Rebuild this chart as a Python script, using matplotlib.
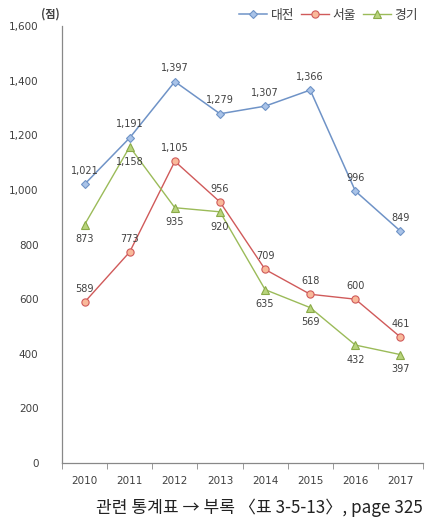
import numpy as np
import matplotlib.pyplot as plt

plt.rcParams['font.family'] = ['Noto Sans CJK KR', 'DejaVu Sans']

# 데이터
years = ['2010', '2011', '2012', '2013', '2014', '2015', '2016', '2017']
daejeon = [1021, 1191, 1397, 1279, 1307, 1366, 996, 849]
seoul = [589, 773, 1105, 956, 709, 618, 600, 461]
gyeonggi = [873, 1158, 935, 920, 635, 569, 432, 397]

txt_col = '#404040'
fig = plt.figure(figsize=(4.43, 5.23), dpi=100)
ax = fig.add_axes([0.140, 0.1147, 0.815, 0.8353])
x = np.arange(len(years))

ax.plot(x, daejeon, '-D', color='#6F93C7', lw=1.1, ms=3.6, mfc='#A9C3E8',
        mec='#6F93C7', mew=0.8, label='대전')
ax.plot(x, seoul, '-o', color='#D05A5A', lw=1.0, ms=5.2, mfc='#F9B99A',
        mec='#D05A5A', mew=0.8, label='서울')
ax.plot(x, gyeonggi, '-^', color='#9BBB59', lw=1.0, ms=5.2, mfc='#B8D47C',
        mec='#8AAA48', mew=0.8, label='경기')

lab_kw = dict(ha='center', fontsize=7, color=txt_col, family=['DejaVu Sans'])
for i, v in enumerate(daejeon):
    ax.annotate(f'{v:,}', (i, v), xytext=(0, 6), textcoords='offset points', va='bottom', **lab_kw)
for i, v in enumerate(seoul):
    ax.annotate(f'{v:,}', (i, v), xytext=(0, 6), textcoords='offset points', va='bottom', **lab_kw)
for i, v in enumerate(gyeonggi):
    ax.annotate(f'{v:,}', (i, v), xytext=(0, -7), textcoords='offset points', va='top', **lab_kw)

ax.set_xlim(-0.5, len(years) - 0.5)
ax.set_ylim(0, 1600)
ax.set_yticks(np.arange(0, 1601, 200))
ax.set_yticklabels([f'{t:,}' for t in range(0, 1601, 200)], family=['DejaVu Sans'])
ax.set_xticks(x)
ax.set_xticklabels(years, family=['DejaVu Sans'])
ax.set_xticks(np.arange(-0.5, len(years)), minor=True)
ax.tick_params(axis='x', which='major', length=0, pad=9, labelsize=7.5, labelcolor=txt_col)
ax.tick_params(axis='x', which='minor', length=4, color='#888888', direction='out')
ax.tick_params(axis='y', length=0, labelsize=7.5, labelcolor=txt_col, pad=17)
for s in ['top', 'right']:
    ax.spines[s].set_visible(False)
for s in ['left', 'bottom']:
    ax.spines[s].set_color('#888888')
    ax.spines[s].set_linewidth(0.9)

fig.text(50 / 443, 1 - 14 / 523, '(점)', ha='center', va='center', fontsize=8,
         fontweight='bold', color=txt_col)
ax.legend(loc='center right', bbox_to_anchor=(418 / 443, 1 - 15 / 523),
          bbox_transform=fig.transFigure, ncol=3, frameon=False,
          fontsize=9.2, handlelength=2.2, columnspacing=0.5, handletextpad=0.3,
          borderaxespad=0, borderpad=0, labelcolor=txt_col)

fig.text(423 / 443, 1 - 508 / 523, '관련 통계표 → 부록 〈표 3-5-13〉, page 325',
         ha='right', va='center', fontsize=12.3, color='#222222')

fig.savefig('out.png', dpi=100)
